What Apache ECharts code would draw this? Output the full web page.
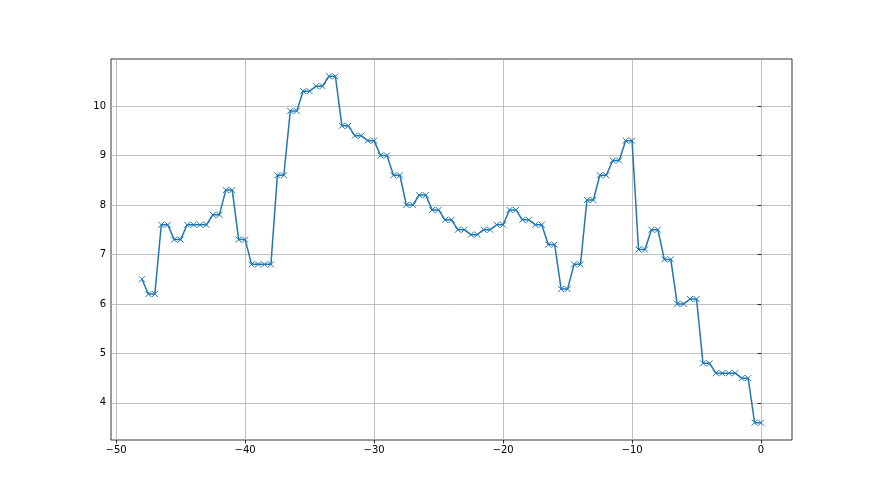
<!DOCTYPE html>
<html><head><meta charset="utf-8">
<script src="https://cdn.jsdelivr.net/npm/echarts@6/dist/echarts.min.js"></script>
<style>html,body{margin:0;padding:0;background:#fff}#c{width:880px;height:495px}</style>
</head><body><div id="c"></div>
<script>
const xStart = -48, xStep = 0.5;
const values = [6.5, 6.2, 6.2, 7.6, 7.6, 7.3, 7.3, 7.6, 7.6, 7.6, 7.6, 7.8, 7.8, 8.3, 8.3, 7.3, 7.3,
  6.8, 6.8, 6.8, 6.8, 8.6, 8.6, 9.9, 9.9, 10.3, 10.3, 10.4, 10.4, 10.6, 10.6, 9.6, 9.6,
  9.4, 9.4, 9.3, 9.3, 9.0, 9.0, 8.6, 8.6, 8.0, 8.0, 8.2, 8.2, 7.9, 7.9, 7.7, 7.7,
  7.5, 7.5, 7.4, 7.4, 7.5, 7.5, 7.6, 7.6, 7.9, 7.9, 7.7, 7.7, 7.6, 7.6, 7.2, 7.2,
  6.3, 6.3, 6.8, 6.8, 8.1, 8.1, 8.6, 8.6, 8.9, 8.9, 9.3, 9.3, 7.1, 7.1, 7.5, 7.5,
  6.9, 6.9, 6.0, 6.0, 6.1, 6.1, 4.8, 4.8, 4.6, 4.6, 4.6, 4.6, 4.5, 4.5, 3.6, 3.6];
const xTicks = [-50, -40, -30, -20, -10, 0];
const yTicks = [4, 5, 6, 7, 8, 9, 10];

const data = values.map((v, i) => [xStart + i * xStep, v]);
const fmt = v => String(v).replace('-', '\u2212');
const chart = echarts.init(document.getElementById('c'), null, {renderer: 'canvas'});
const axisCommon = {
  axisLine: {show: false},
  axisTick: {show: true, length: 3.5, lineStyle: {color: '#000', width: 0.8}},
  axisLabel: {color: '#000', fontSize: 10, fontFamily: 'DejaVu Sans', margin: 5, formatter: fmt},
  splitLine: {show: true, lineStyle: {color: '#b0b0b0', width: 0.8}}
};
chart.setOption({
  animation: false,
  grid: {left: 111, right: 88, top: 59, bottom: 55, show: true, borderColor: '#000', borderWidth: 0.8, backgroundColor: 'transparent'},
  xAxis: Object.assign({}, axisCommon, {
    type: 'value', min: -50.4, max: 2.4,
    axisTick: Object.assign({}, axisCommon.axisTick, {customValues: xTicks}),
    axisLabel: Object.assign({}, axisCommon.axisLabel, {customValues: xTicks}),
  }),
  yAxis: Object.assign({}, axisCommon, {
    type: 'value', min: 3.25, max: 10.95,
    axisTick: Object.assign({}, axisCommon.axisTick, {customValues: yTicks}),
    axisLabel: Object.assign({}, axisCommon.axisLabel, {customValues: yTicks}),
  }),
  series: [{
    type: 'line', data: data,
    symbol: 'path://M0,0L10,10M10,0L0,10', symbolSize: 6, showAllSymbol: true,
    lineStyle: {color: '#1f77b4', width: 1.5},
    itemStyle: {color: '#1f77b4', borderColor: '#1f77b4', borderWidth: 1}
  }]
});
</script></body></html>
